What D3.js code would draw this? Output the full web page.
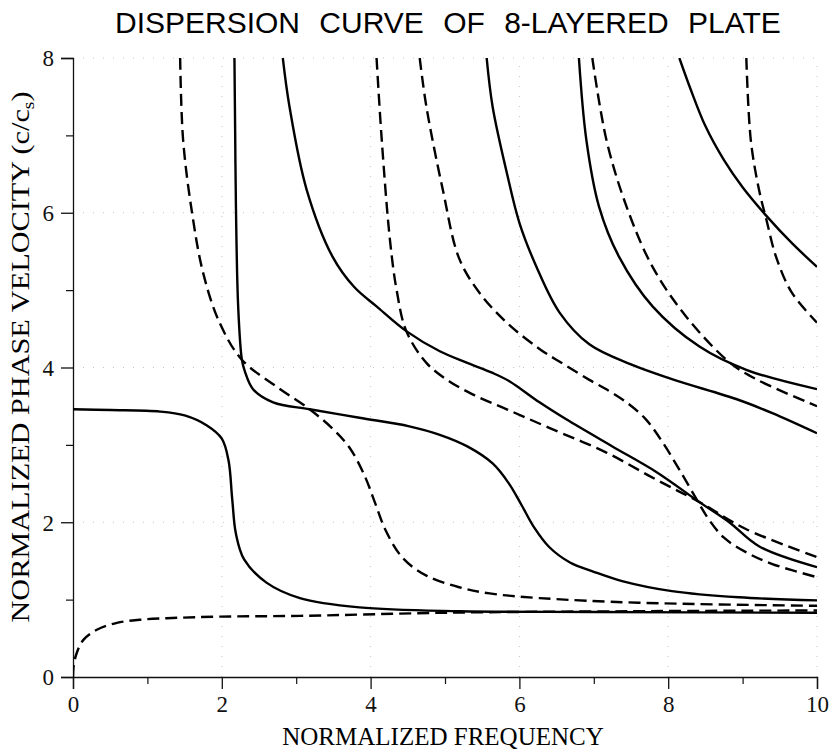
<!DOCTYPE html>
<html>
<head>
<meta charset="utf-8">
<script src="https://cdn.jsdelivr.net/npm/d3@7"></script>
<style>
  html, body { margin: 0; padding: 0; background: #fff; }
  svg { display: block; }
</style>
</head>
<body>
<svg id="chart" width="834" height="752"></svg>
<script>
// ---- data (normalized frequency, normalized phase velocity) ----
const title = "DISPERSION CURVE OF 8-LAYERED PLATE";
const xLabel = "NORMALIZED FREQUENCY";
const yLabel = "NORMALIZED PHASE VELOCITY";
const xTicks = [0, 2, 4, 6, 8, 10];
const yTicks = [0, 2, 4, 6, 8];
const xMinor = [1, 3, 5, 7, 9];
const yMinor = [1, 3, 5, 7];

const solid1 = [[0,3.46],[0.5,3.45],[1.17,3.43],[1.5,3.38],[1.8,3.25],[2.0,3.08],[2.09,2.8],[2.14,2.3],[2.19,1.85],[2.3,1.52],[2.6,1.22],[3.05,1.02],[3.85,0.9],[5.2,0.85],[7,0.84],[10,0.83]];
const dashed1 = [[0,0],[0.01,0.15],[0.05,0.31],[0.14,0.48],[0.32,0.61],[0.59,0.70],[0.9,0.74],[1.26,0.76],[1.98,0.78],[3.05,0.79],[4.97,0.83],[7.5,0.85],[10,0.86]];
const solid2 = [[2.17,8.0],[2.18,7.0],[2.19,6.08],[2.22,4.79],[2.27,4.10],[2.31,3.95],[2.42,3.72],[2.69,3.55],[3.18,3.46],[3.85,3.35],[4.52,3.24],[4.93,3.13],[5.3,2.98],[5.64,2.76],[5.86,2.5],[6.03,2.22],[6.2,1.93],[6.4,1.68],[6.68,1.48],[7.0,1.36],[7.38,1.24],[8.05,1.11],[8.95,1.03],[10,0.99]];
const dashed2 = [[1.44,8.0],[1.48,6.94],[1.6,6.0],[1.75,5.22],[1.97,4.58],[2.27,4.10],[2.74,3.75],[3.18,3.46],[3.5,3.2],[3.72,2.96],[3.92,2.6],[4.06,2.25],[4.2,1.9],[4.43,1.54],[4.75,1.31],[5.19,1.16],[5.6,1.08],[6.27,1.02],[7.6,0.96],[10,0.92]];
const solid3 = [[2.82,8.0],[2.91,7.37],[3.14,6.30],[3.49,5.43],[3.78,5.04],[4.08,4.79],[4.48,4.47],[4.93,4.21],[5.3,4.06],[5.64,3.93],[5.87,3.82],[6.27,3.55],[6.63,3.33],[7.25,2.98],[7.84,2.65],[8.42,2.26],[8.82,2.0],[9.22,1.69],[10,1.42]];
const dashed3 = [[4.08,8.0],[4.15,6.94],[4.26,5.65],[4.35,5.0],[4.48,4.47],[4.75,4.06],[5.06,3.82],[5.4,3.64],[5.83,3.46],[6.4,3.22],[7.17,2.9],[7.84,2.55],[8.42,2.26],[9.05,1.91],[10,1.55]];
const dashed4 = [[4.66,8.0],[4.75,7.37],[4.97,6.3],[5.19,5.41],[5.46,4.97],[5.83,4.58],[6.27,4.24],[6.6,4.04],[6.94,3.84],[7.2,3.7],[7.44,3.55],[7.7,3.33],[7.92,3.04],[8.15,2.68],[8.38,2.3],[8.55,2.03],[8.75,1.8],[9.05,1.61],[9.4,1.46],[10,1.29]];
const solid4 = [[5.56,8.0],[5.64,7.37],[5.83,6.52],[6.0,5.87],[6.23,5.3],[6.54,4.71],[6.94,4.3],[7.5,4.04],[8.05,3.85],[8.95,3.58],[9.4,3.41],[10,3.15]];
const solid5 = [[6.8,8.0],[6.9,6.94],[7.07,6.08],[7.34,5.43],[7.79,4.79],[8.42,4.27],[9.05,3.97],[10,3.72]];
const dashed5 = [[6.98,8.0],[7.17,6.94],[7.44,6.08],[7.79,5.3],[8.24,4.66],[8.82,4.07],[9.18,3.85],[10,3.5]];
const solid6 = [[8.15,8.0],[8.3,7.6],[8.5,7.12],[8.75,6.68],[9.0,6.33],[9.32,5.96],[9.66,5.61],[10,5.3]];
const dashed6 = [[9.05,8.0],[9.11,6.94],[9.22,6.3],[9.32,5.91],[9.45,5.43],[9.66,4.97],[10,4.58]];

const solidCurves = [solid1, solid2, solid3, solid4, solid5, solid6];
const dashedCurves = [dashed1, dashed2, dashed3, dashed4, dashed5, dashed6];

(function draw() {
  const svg = d3.select("#chart");
  const mLeft = 73, mRight = 817, mTop = 58, mBottom = 677;
  const x = d3.scaleLinear().domain([0, 10]).range([mLeft, mRight]);
  const y = d3.scaleLinear().domain([0, 8]).range([mBottom, mTop]);
  const serif = "'Liberation Serif', 'Times New Roman', serif";
  const sans = "'Liberation Sans', Arial, Helvetica, sans-serif";

  // faint dotted grid
  const grid = svg.append("g").attr("stroke", "#c4c4c4").attr("stroke-width", 1).attr("stroke-dasharray", "1,9");
  grid.selectAll("line.v").data(xTicks.filter(d => d > 0)).join("line").attr("class", "v")
    .attr("x1", d => x(d)).attr("x2", d => x(d)).attr("y1", y(0)).attr("y2", y(8));
  grid.selectAll("line.h").data(yTicks.filter(d => d > 0)).join("line").attr("class", "h")
    .attr("x1", x(0)).attr("x2", x(10)).attr("y1", d => y(d)).attr("y2", d => y(d));

  // axes
  const xAxis = d3.axisBottom(x).tickValues(xTicks).tickSize(12).tickPadding(6).tickFormat(d3.format("d"));
  const yAxis = d3.axisLeft(y).tickValues(yTicks).tickSize(12).tickPadding(7).tickFormat(d3.format("d"));
  const gx = svg.append("g").attr("transform", `translate(0,${mBottom})`).call(xAxis);
  const gy = svg.append("g").attr("transform", `translate(${mLeft},0)`).call(yAxis);
  [gx, gy].forEach(g => {
    g.select(".domain").attr("stroke", "#111").attr("stroke-width", 1.3);
    g.selectAll(".tick line").attr("stroke", "#111").attr("stroke-width", 1.3);
    g.selectAll(".tick text").attr("font-family", serif).attr("font-size", 23).attr("fill", "#111");
  });
  gx.selectAll(".tick text").attr("dy", "0.74em");
  gy.selectAll(".tick text").attr("dy", "0.34em");

  // minor ticks
  const gxm = svg.append("g").attr("transform", `translate(0,${mBottom})`)
    .call(d3.axisBottom(x).tickValues(xMinor).tickSize(7).tickFormat(""));
  gxm.select(".domain").remove();
  gxm.selectAll(".tick line").attr("stroke", "#111").attr("stroke-width", 1.2);
  const gym = svg.append("g").attr("transform", `translate(${mLeft},0)`)
    .call(d3.axisLeft(y).tickValues(yMinor).tickSize(7).tickFormat(""));
  gym.select(".domain").remove();
  gym.selectAll(".tick line").attr("stroke", "#111").attr("stroke-width", 1.2);

  // curves
  svg.append("clipPath").attr("id", "clip").append("rect")
    .attr("x", mLeft).attr("y", mTop).attr("width", mRight - mLeft).attr("height", mBottom - mTop);
  const line = d3.line().x(d => x(d[0])).y(d => y(d[1])).curve(d3.curveCatmullRom.alpha(0.5));
  const plot = svg.append("g").attr("clip-path", "url(#clip)");
  plot.selectAll("path.solid").data(solidCurves).join("path")
    .attr("class", "solid").attr("d", line)
    .attr("fill", "none").attr("stroke", "#000").attr("stroke-width", 2.4).attr("stroke-linejoin", "round");
  plot.selectAll("path.dashed").data(dashedCurves).join("path")
    .attr("class", "dashed").attr("d", line)
    .attr("fill", "none").attr("stroke", "#000").attr("stroke-width", 2.4).attr("stroke-dasharray", "12,6");

  // title
  svg.append("text").attr("x", 115).attr("y", 33)
    .attr("font-family", sans).attr("font-size", 30).attr("fill", "#000")
    .attr("word-spacing", 11)
    .text(title);

  // x label
  svg.append("text").attr("x", 443).attr("y", 745)
    .attr("text-anchor", "middle").attr("font-family", serif).attr("font-size", 25).attr("fill", "#000")
    .text(xLabel);

  // y label
  const yl = svg.append("text")
    .attr("transform", `translate(29,357) rotate(-90)`)
    .attr("text-anchor", "middle").attr("font-family", serif).attr("font-size", 25).attr("fill", "#000")
    .attr("textLength", 531).attr("lengthAdjust", "spacingAndGlyphs");
  yl.append("tspan").text(yLabel + "  (c/c");
  yl.append("tspan").attr("font-size", 16).attr("dy", 5).text("s");
  yl.append("tspan").attr("dy", -5).text(")");
})();
</script>
</body>
</html>
